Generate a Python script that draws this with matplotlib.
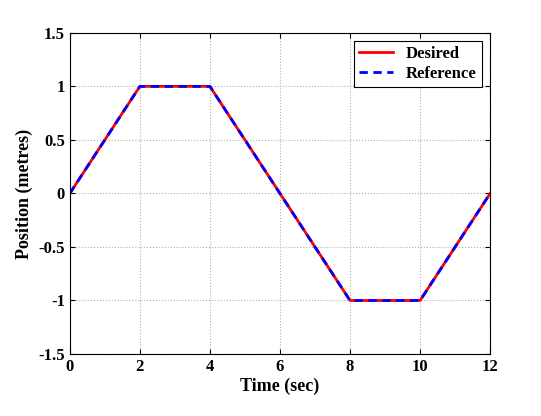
import matplotlib
matplotlib.use("Agg")
import matplotlib.pyplot as plt

time = [0, 2, 4, 6, 8, 10, 12]
desired = [0, 1.0, 1.0, 0, -1.0, -1.0, 0]
reference = [0, 1.0, 1.0, 0, -1.0, -1.0, 0]
xticks = [0, 2, 4, 6, 8, 10, 12]
yticks = [-1.5, -1, -0.5, 0, 0.5, 1, 1.5]
yticklabels = ["-1.5", "-1", "-0.5", "0", "0.5", "1", "1.5"]

plt.rcParams['font.family'] = ['Liberation Serif', 'DejaVu Serif']
plt.rcParams['font.weight'] = 'bold'

fig = plt.figure(figsize=(5.41, 4.16), dpi=100)
ax = fig.add_axes([0.129, 0.149, 0.777, 0.772])
ax.plot(time, desired, color='red', lw=2, label='Desired')
ax.plot(time, reference, color='blue', lw=2, ls=(0, (3, 2)), label='Reference')
ax.set_xlim(0, 12)
ax.set_ylim(-1.5, 1.5)
ax.set_xticks(xticks)
ax.set_yticks(yticks)
ax.set_yticklabels(yticklabels)
ax.tick_params(labelsize=12, direction='in', top=True, right=True)
for l in ax.get_xticklabels() + ax.get_yticklabels():
    l.set_fontweight('bold')
ax.grid(True, ls=':', color='#b0b0b0', lw=0.8)
ax.set_xlabel('Time (sec)', fontsize=13, fontweight='bold', labelpad=2)
ax.set_ylabel('Position (metres)', fontsize=13, fontweight='bold', labelpad=4)
leg = ax.legend(loc='upper right', fontsize=12, fancybox=False, edgecolor='black',
                framealpha=1, handlelength=2, borderpad=0.3, labelspacing=0.2,
                prop={'weight': 'bold', 'size': 12})
leg.get_frame().set_linewidth(0.8)
fig.savefig('out.png', dpi=100)
